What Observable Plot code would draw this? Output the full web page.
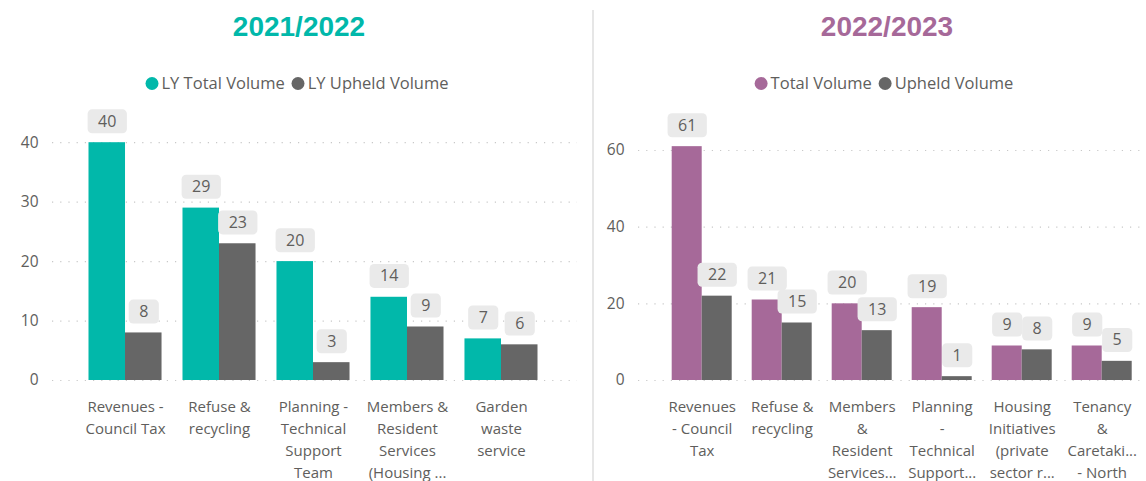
<!DOCTYPE html>
<html><head><meta charset="utf-8">
<script src="https://cdn.jsdelivr.net/npm/d3@7"></script>
<script src="https://cdn.jsdelivr.net/npm/@observablehq/plot@0.6"></script>
<style>
html,body{margin:0;padding:0;background:#fff;}
body{width:1146px;height:481px;overflow:hidden;position:relative;font-family:"Open Sans",sans-serif;color:#605E5C;}
.panel{position:absolute;top:0;height:481px;}
.title{position:absolute;top:10px;transform:translateX(-50%);white-space:nowrap;font:bold 28px "Liberation Sans",Arial,sans-serif;line-height:34px;}
.legend{position:absolute;top:72px;transform:translateX(-50%);white-space:nowrap;display:flex;align-items:center;font-size:16.5px;line-height:22px;}
.legend .item{display:flex;align-items:center;margin-right:7px;}
.legend .item:last-child{margin-right:0;}
.legend .dot{width:13px;height:13px;border-radius:50%;margin-right:3px;}
.chart{position:absolute;top:100px;left:0;}
.divider{position:absolute;left:592px;top:10px;width:2px;height:471px;background:#e6e6e6;}
</style>
</head><body>
<div class="divider"></div>
<div id="left" class="panel" style="left:0;width:593px;"></div>
<div id="right" class="panel" style="left:594px;width:552px;"></div>
<script>
// ---- Data ----
const seriesA = ["LY Total Volume", "LY Upheld Volume"];
const catsA = ["Revenues - Council Tax", "Refuse & recycling", "Planning - Technical Support Team", "Members & Resident Services (Housing ...", "Garden waste service"];
const tickLabelsA = ["Revenues -\nCouncil Tax", "Refuse &\nrecycling", "Planning -\nTechnical\nSupport\nTeam", "Members &\nResident\nServices\n(Housing ...", "Garden\nwaste\nservice"];
const totalA = [40, 29, 20, 14, 7];
const upheldA = [8, 23, 3, 9, 6];
const yTicksA = [0, 10, 20, 30, 40];

const seriesB = ["Total Volume", "Upheld Volume"];
const catsB = ["Revenues - Council Tax", "Refuse & recycling", "Members & Resident Services...", "Planning - Technical Support...", "Housing Initiatives (private sector r...", "Tenancy & Caretaki... - North"];
const tickLabelsB = ["Revenues\n- Council\nTax", "Refuse &\nrecycling", "Members\n&\nResident\nServices...", "Planning\n-\nTechnical\nSupport...", "Housing\nInitiatives\n(private\nsector r...", "Tenancy\n&\nCaretaki...\n- North"];
const totalB = [61, 21, 20, 19, 9, 9];
const upheldB = [22, 15, 13, 1, 8, 5];
const yTicksB = [0, 20, 40, 60];

const TEAL = "#01B8AA", PURPLE = "#A66999", GRAY = "#666666";
const TEXT = "#605E5C";

function makePanel(el, o) {
  const title = document.createElement("div");
  title.className = "title";
  title.style.left = o.titleX + "px";
  title.style.color = o.colors[0];
  title.textContent = o.title;
  el.appendChild(title);

  const lg = document.createElement("div");
  lg.className = "legend";
  lg.style.left = o.legendX + "px";
  o.series.forEach((s, i) => {
    const it = document.createElement("div");
    it.className = "item";
    const dot = document.createElement("span");
    dot.className = "dot";
    dot.style.background = o.colors[i];
    const t = document.createElement("span");
    t.textContent = s;
    it.appendChild(dot); it.appendChild(t);
    lg.appendChild(it);
  });
  el.appendChild(lg);

  const dTotal = o.cats.map((c, i) => ({cat: c, series: o.series[0], value: o.total[i]}));
  const dUpheld = o.cats.map((c, i) => ({cat: c, series: o.series[1], value: o.upheld[i]}));
  const xOpts = {type: "band", domain: o.cats, range: o.xRange, paddingInner: o.paddingInner, paddingOuter: 0, round: false};
  const bw = Plot.scale({x: xOpts}).bandwidth;

  const labelOpts = {x: "cat", y: "value", text: d => String(d.value), lineAnchor: "middle", dy: -21, fill: TEXT, fontSize: 16, ariaLabel: () => "data-label"};

  const svg = Plot.plot({
    width: o.width,
    height: 381,
    marginLeft: o.marginLeft,
    marginRight: o.marginRight,
    marginTop: 0,
    marginBottom: 101,
    style: {fontFamily: '"Open Sans", sans-serif', fontSize: "15.5px", color: TEXT, background: "transparent", overflow: "visible"},
    x: {...xOpts, axis: null},
    y: {domain: [0, o.yTop], ticks: o.yTicks, tickSize: 0, tickPadding: 14, label: null},
    color: {domain: o.series, range: o.colors},
    marks: [
      Plot.ruleY(o.yTicks, {stroke: "#c8c8c8", strokeWidth: 1.2, strokeDasharray: "1.2,7"}),
      Plot.barY(dTotal, {x: "cat", y: "value", fill: "series", insetRight: bw / 2}),
      Plot.barY(dUpheld, {x: "cat", y: "value", fill: "series", insetLeft: bw / 2}),
      Plot.text(dTotal, {...labelOpts, dx: -bw / 4}),
      Plot.text(dUpheld, {...labelOpts, dx: bw / 4}),
      Plot.text(o.cats, {x: d => d, text: (d, i) => o.tickLabels[i], frameAnchor: "bottom", lineAnchor: "top", dy: 16, lineHeight: 1.47, fill: TEXT, fontSize: 15})
    ]
  });
  const wrap = document.createElement("div");
  wrap.className = "chart";
  wrap.appendChild(svg);
  el.appendChild(wrap);

  // label backgrounds (rounded boxes) sized from each rendered label
  let texts = [];
  svg.querySelectorAll('[aria-label="data-label"]').forEach(n => {
    if (n.tagName.toLowerCase() === "text") texts.push(n);
    else n.querySelectorAll("text").forEach(t => texts.push(t));
  });
  texts.forEach(t => {
    const bb = t.getBBox();
    const h = 24, w = bb.width + 21;
    const r = document.createElementNS("http://www.w3.org/2000/svg", "rect");
    r.setAttribute("x", bb.x + bb.width / 2 - w / 2);
    r.setAttribute("y", bb.y + bb.height / 2 - h / 2 + 0.5);
    r.setAttribute("width", w);
    r.setAttribute("height", h);
    r.setAttribute("rx", 4.5);
    r.setAttribute("fill", "#EAEAEA");
    r.setAttribute("stroke", "none");
    if (t.getAttribute("transform")) r.setAttribute("transform", t.getAttribute("transform"));
    t.parentNode.insertBefore(r, t);
  });
}

makePanel(document.getElementById("left"), {
  title: "2021/2022", titleX: 299, legendX: 297,
  series: seriesA, colors: [TEAL, GRAY],
  cats: catsA, tickLabels: tickLabelsA, total: totalA, upheld: upheldA,
  yTicks: yTicksA, yTop: 47.1,
  width: 593, marginLeft: 52, marginRight: 16,
  xRange: [88.5, 537.5], paddingInner: 0.223
});
makePanel(document.getElementById("right"), {
  title: "2022/2023", titleX: 293, legendX: 290,
  series: seriesB, colors: [PURPLE, GRAY],
  cats: catsB, tickLabels: tickLabelsB, total: totalB, upheld: upheldB,
  yTicks: yTicksB, yTop: 73.04,
  width: 552, marginLeft: 44, marginRight: 6,
  xRange: [77.7, 537.7], paddingInner: 0.25
});
</script>
</body></html>
